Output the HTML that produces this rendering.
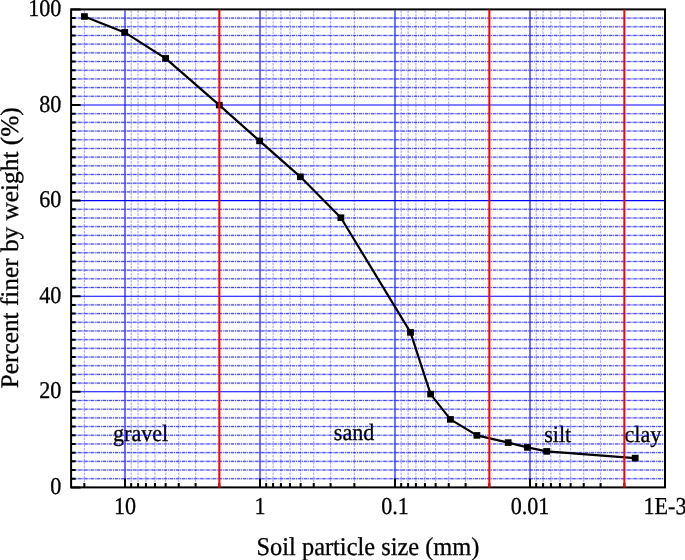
<!DOCTYPE html>
<html><head><meta charset="utf-8"><style>html,body{margin:0;padding:0;background:#fff;overflow:hidden}svg{display:block;will-change:transform}text{text-rendering:geometricPrecision}</style></head>
<body><svg width="685" height="560" viewBox="0 0 685 560"><rect width="685" height="560" fill="#fff"/><text transform="translate(113.05 441) scale(0.94 1)" font-family="Liberation Serif, serif" stroke="#000" stroke-width="0.3" font-size="23.5">gravel</text><text transform="translate(333.8 440.0) scale(0.94 1)" font-family="Liberation Serif, serif" stroke="#000" stroke-width="0.3" font-size="23.5">sand</text><text transform="translate(544.2 441.5) scale(0.94 1)" font-family="Liberation Serif, serif" stroke="#000" stroke-width="0.3" font-size="23.5">silt</text><text transform="translate(624.56 441.5) scale(0.94 1)" font-family="Liberation Serif, serif" stroke="#000" stroke-width="0.3" font-size="23.5">clay</text><g><path d="M84.36 10.4V486.4M219.36 10.4V486.4M195.59 10.4V486.4M178.72 10.4V486.4M165.64 10.4V486.4M154.95 10.4V486.4M145.91 10.4V486.4M138.08 10.4V486.4M131.18 10.4V486.4M354.36 10.4V486.4M330.59 10.4V486.4M313.72 10.4V486.4M300.64 10.4V486.4M289.95 10.4V486.4M280.91 10.4V486.4M273.08 10.4V486.4M266.18 10.4V486.4M489.36 10.4V486.4M465.59 10.4V486.4M448.72 10.4V486.4M435.64 10.4V486.4M424.95 10.4V486.4M415.91 10.4V486.4M408.08 10.4V486.4M401.18 10.4V486.4M624.36 10.4V486.4M600.59 10.4V486.4M583.72 10.4V486.4M570.64 10.4V486.4M559.95 10.4V486.4M550.91 10.4V486.4M543.08 10.4V486.4M536.18 10.4V486.4" stroke="#0000ff" stroke-opacity="0.35" stroke-width="1.1" stroke-dasharray="2.5 1" fill="none"/><path d="M72.1 478.71H664.0M72.1 470.02H664.0M72.1 461.33H664.0M72.1 452.64H664.0M72.1 443.95H664.0M72.1 435.25H664.0M72.1 426.56H664.0M72.1 417.87H664.0M72.1 409.18H664.0M72.1 400.49H664.0M72.1 383.11H664.0M72.1 374.42H664.0M72.1 365.73H664.0M72.1 357.04H664.0M72.1 348.35H664.0M72.1 339.65H664.0M72.1 330.96H664.0M72.1 322.27H664.0M72.1 313.58H664.0M72.1 304.89H664.0M72.1 287.51H664.0M72.1 278.82H664.0M72.1 270.13H664.0M72.1 261.44H664.0M72.1 252.75H664.0M72.1 244.05H664.0M72.1 235.36H664.0M72.1 226.67H664.0M72.1 217.98H664.0M72.1 209.29H664.0M72.1 191.91H664.0M72.1 183.22H664.0M72.1 174.53H664.0M72.1 165.84H664.0M72.1 157.15H664.0M72.1 148.45H664.0M72.1 139.76H664.0M72.1 131.07H664.0M72.1 122.38H664.0M72.1 113.69H664.0M72.1 96.31H664.0M72.1 87.62H664.0M72.1 78.93H664.0M72.1 70.24H664.0M72.1 61.55H664.0M72.1 52.85H664.0M72.1 44.16H664.0M72.1 35.47H664.0M72.1 26.78H664.0M72.1 18.09H664.0" stroke="#0000ff" stroke-opacity="0.22" stroke-width="2.1" stroke-dasharray="3.5 0.8 1 0.8" fill="none"/><path d="M72.1 478.71H664.0M72.1 470.02H664.0M72.1 461.33H664.0M72.1 452.64H664.0M72.1 443.95H664.0M72.1 435.25H664.0M72.1 426.56H664.0M72.1 417.87H664.0M72.1 409.18H664.0M72.1 400.49H664.0M72.1 383.11H664.0M72.1 374.42H664.0M72.1 365.73H664.0M72.1 357.04H664.0M72.1 348.35H664.0M72.1 339.65H664.0M72.1 330.96H664.0M72.1 322.27H664.0M72.1 313.58H664.0M72.1 304.89H664.0M72.1 287.51H664.0M72.1 278.82H664.0M72.1 270.13H664.0M72.1 261.44H664.0M72.1 252.75H664.0M72.1 244.05H664.0M72.1 235.36H664.0M72.1 226.67H664.0M72.1 217.98H664.0M72.1 209.29H664.0M72.1 191.91H664.0M72.1 183.22H664.0M72.1 174.53H664.0M72.1 165.84H664.0M72.1 157.15H664.0M72.1 148.45H664.0M72.1 139.76H664.0M72.1 131.07H664.0M72.1 122.38H664.0M72.1 113.69H664.0M72.1 96.31H664.0M72.1 87.62H664.0M72.1 78.93H664.0M72.1 70.24H664.0M72.1 61.55H664.0M72.1 52.85H664.0M72.1 44.16H664.0M72.1 35.47H664.0M72.1 26.78H664.0M72.1 18.09H664.0" stroke="#0000ff" stroke-opacity="0.65" stroke-width="1.0" stroke-dasharray="3.5 0.8 1 0.8" fill="none"/><path d="M125.00 10.4V486.4M260.00 10.4V486.4M395.00 10.4V486.4M530.00 10.4V486.4M72.1 391.80H664.0M72.1 296.20H664.0M72.1 200.60H664.0M72.1 105.00H664.0" stroke="#0000ff" stroke-opacity="1" stroke-width="1.1" fill="none"/></g><path d="M71.1 487.40H80.6M71.1 478.71H75.69999999999999M71.1 470.02H75.69999999999999M71.1 461.33H75.69999999999999M71.1 452.64H75.69999999999999M71.1 443.95H75.69999999999999M71.1 435.25H75.69999999999999M71.1 426.56H75.69999999999999M71.1 417.87H75.69999999999999M71.1 409.18H75.69999999999999M71.1 400.49H75.69999999999999M71.1 391.80H80.6M71.1 383.11H75.69999999999999M71.1 374.42H75.69999999999999M71.1 365.73H75.69999999999999M71.1 357.04H75.69999999999999M71.1 348.35H75.69999999999999M71.1 339.65H75.69999999999999M71.1 330.96H75.69999999999999M71.1 322.27H75.69999999999999M71.1 313.58H75.69999999999999M71.1 304.89H75.69999999999999M71.1 296.20H80.6M71.1 287.51H75.69999999999999M71.1 278.82H75.69999999999999M71.1 270.13H75.69999999999999M71.1 261.44H75.69999999999999M71.1 252.75H75.69999999999999M71.1 244.05H75.69999999999999M71.1 235.36H75.69999999999999M71.1 226.67H75.69999999999999M71.1 217.98H75.69999999999999M71.1 209.29H75.69999999999999M71.1 200.60H80.6M71.1 191.91H75.69999999999999M71.1 183.22H75.69999999999999M71.1 174.53H75.69999999999999M71.1 165.84H75.69999999999999M71.1 157.15H75.69999999999999M71.1 148.45H75.69999999999999M71.1 139.76H75.69999999999999M71.1 131.07H75.69999999999999M71.1 122.38H75.69999999999999M71.1 113.69H75.69999999999999M71.1 105.00H80.6M71.1 96.31H75.69999999999999M71.1 87.62H75.69999999999999M71.1 78.93H75.69999999999999M71.1 70.24H75.69999999999999M71.1 61.55H75.69999999999999M71.1 52.85H75.69999999999999M71.1 44.16H75.69999999999999M71.1 35.47H75.69999999999999M71.1 26.78H75.69999999999999M71.1 18.09H75.69999999999999M71.1 9.40H80.6M84.36 487.4V482.9M219.36 487.4V482.9M195.59 487.4V482.9M178.72 487.4V482.9M165.64 487.4V482.9M154.95 487.4V482.9M145.91 487.4V482.9M138.08 487.4V482.9M131.18 487.4V482.9M354.36 487.4V482.9M330.59 487.4V482.9M313.72 487.4V482.9M300.64 487.4V482.9M289.95 487.4V482.9M280.91 487.4V482.9M273.08 487.4V482.9M266.18 487.4V482.9M489.36 487.4V482.9M465.59 487.4V482.9M448.72 487.4V482.9M435.64 487.4V482.9M424.95 487.4V482.9M415.91 487.4V482.9M408.08 487.4V482.9M401.18 487.4V482.9M624.36 487.4V482.9M600.59 487.4V482.9M583.72 487.4V482.9M570.64 487.4V482.9M559.95 487.4V482.9M550.91 487.4V482.9M543.08 487.4V482.9M536.18 487.4V482.9M125.00 487.4V478.4M260.00 487.4V478.4M395.00 487.4V478.4M530.00 487.4V478.4" stroke="#000" stroke-width="2" fill="none"/><rect x="71.1" y="9.4" width="593.9" height="478.0" fill="none" stroke="#000" stroke-width="2"/><path d="M84.40 16.50 L124.70 32.40 L165.60 58.40 L219.30 105.10 L259.60 140.90 L300.40 176.80 L340.90 217.70 L410.50 332.40 L430.60 394.10 L450.40 419.40 L476.90 435.40 L508.20 442.60 L527.40 447.40 L546.70 451.40 L635.20 458.10" stroke="#000" stroke-width="2.2" fill="none" stroke-linejoin="round"/><rect x="81.00" y="13.20" width="6.8" height="6.6" fill="#000"/><rect x="121.30" y="29.10" width="6.8" height="6.6" fill="#000"/><rect x="162.20" y="55.10" width="6.8" height="6.6" fill="#000"/><rect x="215.90" y="101.80" width="6.8" height="6.6" fill="#000"/><rect x="256.20" y="137.60" width="6.8" height="6.6" fill="#000"/><rect x="297.00" y="173.50" width="6.8" height="6.6" fill="#000"/><rect x="337.50" y="214.40" width="6.8" height="6.6" fill="#000"/><rect x="407.10" y="329.10" width="6.8" height="6.6" fill="#000"/><rect x="427.20" y="390.80" width="6.8" height="6.6" fill="#000"/><rect x="447.00" y="416.10" width="6.8" height="6.6" fill="#000"/><rect x="473.50" y="432.10" width="6.8" height="6.6" fill="#000"/><rect x="504.80" y="439.30" width="6.8" height="6.6" fill="#000"/><rect x="524.00" y="444.10" width="6.8" height="6.6" fill="#000"/><rect x="543.30" y="448.10" width="6.8" height="6.6" fill="#000"/><rect x="631.80" y="454.80" width="6.8" height="6.6" fill="#000"/><path d="M219.36 9.4V487.4M489.36 9.4V487.4M624.36 9.4V487.4" stroke="#ff0000" stroke-width="2" fill="none"/><text transform="translate(61.4 493.95) scale(0.917 1)" font-family="Liberation Serif, serif" stroke="#000" stroke-width="0.3" font-size="24.1" text-anchor="end">0</text><text transform="translate(61.4 398.35) scale(0.917 1)" font-family="Liberation Serif, serif" stroke="#000" stroke-width="0.3" font-size="24.1" text-anchor="end">20</text><text transform="translate(61.4 302.75) scale(0.917 1)" font-family="Liberation Serif, serif" stroke="#000" stroke-width="0.3" font-size="24.1" text-anchor="end">40</text><text transform="translate(61.4 207.15) scale(0.917 1)" font-family="Liberation Serif, serif" stroke="#000" stroke-width="0.3" font-size="24.1" text-anchor="end">60</text><text transform="translate(61.4 111.55) scale(0.917 1)" font-family="Liberation Serif, serif" stroke="#000" stroke-width="0.3" font-size="24.1" text-anchor="end">80</text><text transform="translate(61.4 15.95) scale(0.917 1)" font-family="Liberation Serif, serif" stroke="#000" stroke-width="0.3" font-size="24.1" text-anchor="end">100</text><text transform="translate(125.00 514.2) scale(0.91 1)" font-family="Liberation Serif, serif" stroke="#000" stroke-width="0.3" font-size="24.3" text-anchor="middle">10</text><text transform="translate(260.00 514.2) scale(0.91 1)" font-family="Liberation Serif, serif" stroke="#000" stroke-width="0.3" font-size="24.3" text-anchor="middle">1</text><text transform="translate(395.00 514.2) scale(0.91 1)" font-family="Liberation Serif, serif" stroke="#000" stroke-width="0.3" font-size="24.3" text-anchor="middle">0.1</text><text transform="translate(530.00 514.2) scale(0.91 1)" font-family="Liberation Serif, serif" stroke="#000" stroke-width="0.3" font-size="24.3" text-anchor="middle">0.01</text><text transform="translate(665.00 514.2) scale(0.91 1)" font-family="Liberation Serif, serif" stroke="#000" stroke-width="0.3" font-size="24.3" text-anchor="middle">1E-3</text><text transform="translate(367.97 554.95) scale(0.953 1)" font-family="Liberation Serif, serif" stroke="#000" stroke-width="0.3" font-size="25.6" text-anchor="middle">Soil particle size (mm)</text><text transform="translate(17.6 388.3) rotate(-90)" font-family="Liberation Serif, serif" stroke="#000" stroke-width="0.3" font-size="25.3">Percent finer by weight (%)</text></svg></body></html>
